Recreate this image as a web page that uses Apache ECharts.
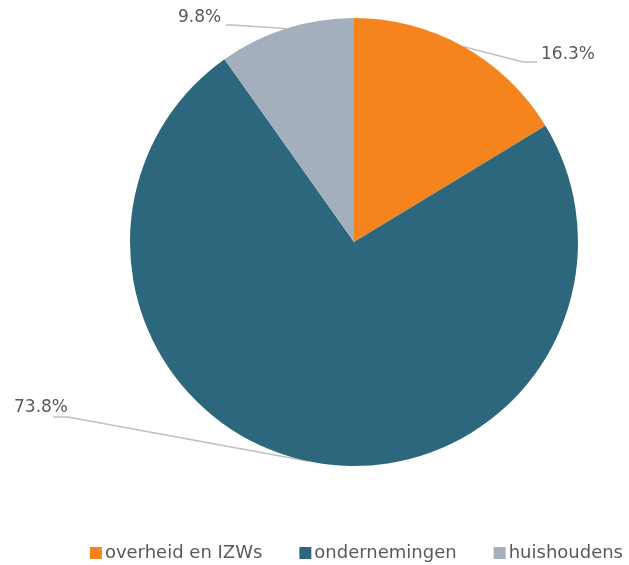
<!DOCTYPE html>
<html>
<head>
<meta charset="utf-8">
<script src="https://cdn.jsdelivr.net/npm/echarts@6/dist/echarts.min.js"></script>
<style>
  html, body { margin: 0; padding: 0; background: #fff; }
  #chart { width: 629px; height: 565px; }
</style>
</head>
<body>
<div id="chart"></div>
<script>
// sectoren en aandelen (%)
const categories = ["overheid en IZWs", "ondernemingen", "huishoudens"];
const shares = [16.3, 73.8, 9.8];
const colors = ["#F5841F", "#2D677E", "#A4AFBD"];

const pieCenter = [354, 242];
const pieRadius = 224;

// label plekken, in volgorde van de data
const labelSpots = [
  { x: 541, y: 55, elbow: [[523, 62], [537, 62]] },
  { x: 14, y: 408, elbow: [[68, 417], [53, 417]] },
  { x: 178, y: 18, elbow: [[232, 25], [226, 25]] }
];

// punt op de rand van een taartpunt (midden van de hoek)
function edgePoint(idx) {
  const total = shares.reduce((a, b) => a + b, 0);
  let before = 0;
  for (let i = 0; i < idx; i++) before += shares[i];
  const frac = (before + shares[idx] / 2) / total;
  const ang = frac * Math.PI * 2; // met de klok mee vanaf boven
  return [pieCenter[0] + pieRadius * Math.sin(ang), pieCenter[1] - pieRadius * Math.cos(ang)];
}

const chart = echarts.init(document.getElementById("chart"));

chart.setOption({
  color: colors,
  animation: false,
  legend: {
    data: categories,
    top: 539,
    right: 1,
    icon: "rect",
    itemWidth: 12,
    itemHeight: 12,
    itemGap: 37,
    textStyle: { fontFamily: "DejaVu Sans", fontSize: 18, color: "#595959", padding: [0, 0, 0, -2] }
  },
  series: [
    {
      type: "pie",
      center: pieCenter,
      radius: pieRadius,
      startAngle: 90,
      clockwise: true,
      data: categories.map((name, i) => ({ name, value: shares[i] })),
      label: {
        show: true,
        position: "outside",
        formatter: (p) => p.value.toFixed(1) + "%",
        fontFamily: "DejaVu Sans",
        fontSize: 17,
        color: "#595959"
      },
      labelLine: {
        show: true,
        length: 10,
        length2: 10,
        lineStyle: { color: "#BFBFBF", width: 1.5 }
      },
      labelLayout: (params) => {
        const s = labelSpots[params.dataIndex];
        return {
          x: s.x,
          y: s.y,
          align: "left",
          verticalAlign: "middle",
          labelLinePoints: [edgePoint(params.dataIndex), s.elbow[0], s.elbow[1]]
        };
      },
      itemStyle: { borderWidth: 0 }
    }
  ]
});
</script>
</body>
</html>
